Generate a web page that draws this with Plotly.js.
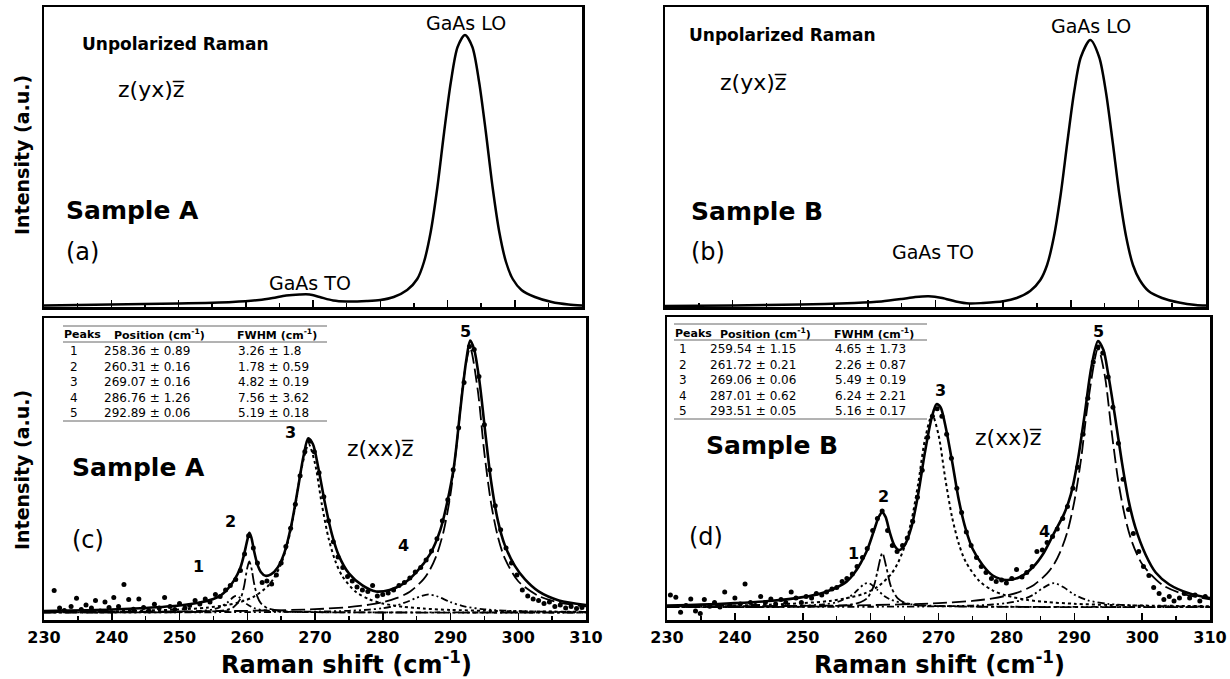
<!DOCTYPE html>
<html>
<head>
<meta charset="utf-8">
<script src="https://cdn.plot.ly/plotly-3.0.1.min.js"></script>
<style>html,body{margin:0;padding:0;background:#fff;}#chart{width:1230px;height:679px;}</style>
</head>
<body>
<div id="chart"></div>
<script>
// ---------- DATA ----------
// (a) Sample A, unpolarized Raman spectrum
const aX = [230,240,250,258,262,264,266,268,269.5,271,273,275,278,280,282,284,285.5,286.5,287.5,288.5,289.5,290.5,291.5,292.6,293.7,294.7,295.7,296.7,297.7,298.7,299.7,301,303,305.5,308,310];
const aY = [1.5,2.5,3.5,5,7,9,11.5,12.5,12.5,10,6.5,5.5,6,7,10,17,28,45,75,120,175,225,260,272,260,225,175,120,75,45,28,17,10,5,2.5,1.5];
// (b) Sample B, unpolarized Raman spectrum
const bX = [230,240,250,258,262,265,267,269,271,273,275,277,280,282,284,285.5,286.5,287.5,288.5,289.5,290.5,291.5,292.9,294.2,295.2,296.2,297.2,298.2,299.2,300.2,301.5,303.5,306,308.5,310];
const bY = [1,1.5,2.5,4,5.5,8,10,10.8,9,5.5,3.5,4,5.7,9,16,27,42,70,112,165,215,250,267,250,215,165,112,70,42,27,16,9,4.5,2,1.5];

// (c) Sample A z(xx)z : fitted envelope
const cFitX = [230,240,245,250,253,255,256,257,258,259,259.5,260,260.3,260.6,261,261.5,262,262.7,263.5,264.5,265.5,266.5,267.5,268.3,269,269.7,270.5,271.5,272.5,273.5,275,277,279,281,283,285,287,288.5,289.5,290.5,291.5,292.3,292.9,293.5,294.3,295.2,296,297,298,299.5,301,303,306,310];
const cFitY = [2,2.5,3,3.8,4.8,6,7,9,12,16.5,20.5,25.5,28,26.5,22,17.5,15,13.7,14.2,16.5,21.5,30.5,43,53.5,59.5,57.5,49.5,37.5,27.5,20.5,14.5,10.5,8.5,9,11,15,21,29,38,50,70,85,92,89,78,60,45,32,24,17,12.5,8.5,5.5,4];
// (c) fitted components 1..5
const c1X = [230,245,250,253,255,256,257,258,258.4,259,260,261,262,264,268,280,310];
const c1Y = [1.52,1.6,1.7,2.0,2.55,3.3,4.7,6.7,7.0,6.3,4.2,3.0,2.4,1.9,1.65,1.53,1.5];
const c2X = [230,250,255,257,258,259,259.5,260,260.3,260.6,261,261.5,262,263,265,270,280,310];
const c2Y = [1.5,1.6,1.9,2.4,3.3,6.1,9.9,16.3,18.5,16.5,11.3,6.8,4.6,2.9,2.0,1.6,1.5,1.5];
const c3X = [230,240,245,250,254,257,259,261,263,264,265,266,267,268,269.07,270,271,272,273,274,276,278,280,283,286,290,295,300,310];
const c3Y = [1.75,1.9,2.15,2.5,3.1,4.0,5.0,6.8,10.2,13.2,17.7,24.9,35.8,49.4,57.5,51.1,37.6,26.2,18.6,13.7,8.4,5.9,4.5,3.4,2.8,2.35,2.05,1.9,1.7];
const c4X = [230,260,270,275,278,280,282,284,285,286.76,288,290,292,295,300,310];
const c4Y = [1.52,1.62,1.8,2.06,2.45,2.93,3.82,5.42,6.42,7.5,6.9,4.97,3.55,2.55,1.95,1.66];
const c5X = [230,260,270,275,278,280,282,284,286,287,288,289,290,291,292,292.89,294,295,296,297,298,300,303,306,310];
const c5Y = [1.65,2.05,2.6,3.3,4.1,4.9,6.25,8.4,12.5,15.9,20.9,28.7,40.8,59,80.3,89.5,75.9,54.5,37.7,26.6,19.6,11.9,7.0,4.8,3.5];
// (c) measured points [shift, intensity]
const cDots = [[231.5,8.8],[232.3,3.0],[233.0,2.2],[234.0,3.5],[234.8,6.2],[235.5,2.5],[236.2,4.0],[237.0,3.0],[237.6,5.5],[238.3,2.0],[239.0,5.0],[239.6,3.2],[240.3,6.5],[241.0,3.5],[241.8,10.8],[242.5,5.8],[243.2,2.6],[244.0,6.0],[244.7,3.2],[245.5,2.0],[246.3,4.2],[247.0,3.0],[247.8,6.5],[248.6,3.5],[249.3,2.5],[250.0,4.5],[250.8,3.0],[251.5,3.8],[252.3,5.5],[253.0,4.3],[253.8,6.0],[254.5,5.0],[255.3,7.5],[256.0,6.8],[256.8,9.0],[257.5,10.5],[258.3,12.5],[259.0,15.5],[259.6,21],[260.2,27],[260.9,23],[261.5,18],[262.2,11.5],[262.9,12],[263.6,11],[264.3,14],[265.0,18],[265.7,23.5],[266.4,29.5],[267.1,37.5],[267.8,47],[268.5,55],[269.2,58.5],[269.9,55],[270.6,48],[271.3,40],[272.0,32],[272.7,25],[273.4,20],[274.1,16.5],[274.8,13.5],[275.5,12],[276.2,10],[277.0,9],[277.8,8.5],[278.5,10.5],[279.2,7],[280.0,7.5],[280.8,8],[281.6,9],[282.4,10.5],[283.2,11.5],[284.0,13],[284.8,15],[285.6,16.5],[286.4,19],[287.2,22],[288.0,26],[288.8,32],[289.6,39],[290.4,49],[291.2,63],[292.0,78],[292.8,90],[293.5,89],[294.2,80],[295.0,64],[295.8,49],[296.6,37],[297.4,29],[298.2,23],[299.0,18],[299.8,14],[300.6,9],[301.4,7],[302.2,6],[303.0,5.5],[303.8,4.5],[304.6,5],[305.4,3.5],[306.2,4],[307.0,3],[307.8,3.5],[308.6,2.8],[309.4,3.2]];

// (d) Sample B z(xx)z : fitted envelope
const dFitX = [230,235,240,245,250,253,255,256.5,257.5,258.5,259.5,260.5,261.2,261.7,262.2,262.8,263.5,264.2,265,266,267,268,269,269.7,270.3,271,272,273,274,275,276.5,278,280,282,284,285.5,287,288.5,289.5,290.5,291.5,292.5,293.5,294.3,295,296,297,298,299,300.5,302,304,307,310];
const dFitY = [3,3.3,3.8,4.5,5.8,7.3,9,11,13.5,17,21.5,28,32.5,34,32.5,27.5,23,21.5,23,29,40,54,65.5,70,69,63,51,38,28.5,22,16.5,13,11.5,12.5,16,20.5,27,33.5,40,51,66,82,91,88,80,66,51,38,29,20,14,10,7,5.5];
// (d) fitted components 1..5
const d1X = [230,245,250,253,255,257,258,259,259.54,260,261,262,263,265,268,275,290,310];
const d1Y = [2.55,2.7,2.95,3.4,4.1,6.1,8.0,10.1,10.5,10.2,8.2,6.2,4.95,3.7,3.05,2.7,2.55,2.5];
const d2X = [230,250,255,257,258.5,259.5,260.5,261,261.72,262.3,263,264,265,267,270,280,310];
const d2Y = [2.5,2.6,2.9,3.3,4.1,5.5,9.7,14.3,20.5,15.9,9.3,5.4,4.0,3.1,2.8,2.55,2.5];
const d3X = [230,240,245,250,254,257,259,261,263,264,265,266,267,268,269.06,270,271,272,273,274,276,278,280,283,286,290,295,300,310];
const d3Y = [2.8,3.05,3.3,3.8,4.55,5.7,6.95,9.2,13.4,17.1,22.6,31.1,43.5,58.2,66.5,59.8,45.2,32.4,23.5,17.6,11.2,8.0,6.3,4.9,4.15,3.6,3.2,3.0,2.8];
const d4X = [230,260,270,275,278,280,282,284,285.5,287.01,288.5,290,292,295,300,310];
const d4Y = [2.5,2.6,2.75,3.0,3.35,3.8,4.7,6.65,9.0,10.5,9.0,6.65,4.75,3.55,2.95,2.65];
const d5X = [230,260,270,275,278,280,282,284,286,287,288,289,290,291,292,293.51,294.5,295.5,296.5,297.5,298.5,300,303,306,310];
const d5Y = [2.7,3.15,3.8,4.55,5.4,6.3,7.6,9.8,13.7,16.7,21.2,27.6,37.5,51.6,70.2,88.5,79.5,61,44.2,32.3,24.2,16.8,9.85,6.9,5.1];
// (d) measured points [shift, intensity]
const dDots = [[230.5,6.5],[231.3,5.8],[232.0,0.8],[232.8,3.0],[233.5,5.2],[234.2,1.2],[234.9,0.4],[235.5,5.0],[236.3,2.8],[237.0,4.0],[237.8,2.5],[238.5,7.5],[239.3,3.0],[240.0,5.5],[240.8,3.5],[241.5,10.2],[242.3,4.0],[243.0,3.0],[243.8,6.0],[244.5,4.0],[245.3,5.2],[246.0,3.5],[246.8,5.0],[247.5,4.0],[248.3,7.5],[249.0,5.5],[249.8,4.0],[250.5,6.0],[251.3,5.5],[252.0,7.0],[252.8,6.5],[253.5,7.5],[254.3,8.5],[255.0,9.0],[255.8,11.0],[256.5,12.0],[257.3,13.5],[258.0,16.0],[258.8,19.0],[259.5,22.0],[260.3,28.0],[261.0,32.0],[261.7,34.5],[262.5,28.0],[263.2,23.0],[263.9,21.0],[264.7,23.0],[265.4,25.5],[266.2,31.0],[266.9,39.0],[267.6,48.0],[268.4,59.0],[269.1,66.0],[269.8,68.5],[270.5,66.0],[271.2,60.0],[271.9,52.0],[272.7,42.0],[273.4,34.0],[274.1,27.5],[274.8,23.0],[275.6,19.0],[276.3,16.0],[277.0,14.0],[277.8,12.0],[278.5,11.0],[279.3,11.5],[280.0,10.5],[280.8,12.0],[281.5,15.0],[282.3,12.5],[283.0,14.0],[283.8,16.0],[284.5,21.0],[285.3,21.5],[286.0,24.0],[286.8,26.0],[287.5,28.5],[288.3,32.0],[289.0,36.0],[289.8,42.0],[290.5,49.0],[291.3,60.0],[292.0,72.0],[292.8,84.0],[293.5,89.0],[294.2,87.0],[295.0,79.0],[295.7,69.0],[296.5,57.0],[297.2,45.0],[298.0,35.0],[298.7,27.0],[299.5,21.0],[300.2,16.0],[301.0,13.0],[301.7,9.0],[302.5,7.0],[303.2,5.0],[304.0,6.0],[304.7,4.5],[305.5,5.5],[306.2,7.0],[307.0,5.5],[307.8,6.5],[308.5,4.5],[309.3,6.0]];

// inset tables
const peakIds = ['1','2','3','4','5'];
const posA  = ['258.36 ± 0.89','260.31 ± 0.16','269.07 ± 0.16','286.76 ± 1.26','292.89 ± 0.06'];
const fwhmA = ['3.26 ± 1.8','1.78 ± 0.59','4.82 ± 0.19','7.56 ± 3.62','5.19 ± 0.18'];
const posB  = ['259.54 ± 1.15','261.72 ± 0.21','269.06 ± 0.06','287.01 ± 0.62','293.51 ± 0.05'];
const fwhmB = ['4.65 ± 1.73','2.26 ± 0.87','5.49 ± 0.19','6.24 ± 2.21','5.16 ± 0.17'];
const tableHead = ['Peaks','Position (cm<sup>-1</sup>)','FWHM (cm<sup>-1</sup>)'];
const xTicks = [230,240,250,260,270,280,290,300,310];

// ---------- LAYOUT HELPERS ----------
const W = 1230, H = 679;
const FONT = 'DejaVu Sans, Arial, sans-serif';
const px = v => v / W;
const py = v => 1 - v / H;

const boxes = {
  a: {x0: 44,  x1: 582,  y0: 7,   y1: 307, yr: [0, 300]},
  b: {x0: 665, x1: 1206, y0: 7,   y1: 307, yr: [0, 300]},
  c: {x0: 44,  x1: 586,  y0: 318, y1: 620, yr: [-1, 99.5]},
  d: {x0: 667, x1: 1210, y0: 317, y1: 620, yr: [-1.8, 99]}
};

function xAxis(b, anchor, labels) {
  return {
    domain: [px(b.x0), px(b.x1)], anchor: anchor, range: [230, 310],
    showline: true, mirror: true, linecolor: '#000', linewidth: 2.5,
    ticks: 'inside', ticklen: 7, tickwidth: 1.5, tickcolor: '#000',
    tickmode: 'array', tickvals: xTicks, ticktext: xTicks.map(String),
    minor: {dtick: 5, tick0: 235, ticks: 'inside', ticklen: 4, tickwidth: 1.5, tickcolor: '#000'},
    showgrid: false, zeroline: false, showticklabels: labels,
    tickfont: {family: FONT, size: 16, color: '#000', weight: 'bold'},
    ticklabelstandoff: 1, fixedrange: true
  };
}
function yAxis(b, anchor) {
  return {
    domain: [py(b.y1), py(b.y0)], anchor: anchor, range: b.yr,
    showline: true, mirror: true, linecolor: '#000', linewidth: 2.5,
    ticks: '', showticklabels: false, showgrid: false, zeroline: false, fixedrange: true
  };
}

function ann(text, x, y, size, opt) {
  opt = opt || {};
  return {
    text: text, x: px(x), y: py(y), xref: 'paper', yref: 'paper', showarrow: false,
    xanchor: opt.xa || 'left', yanchor: opt.ya || 'middle', align: 'left', textangle: opt.angle || 0,
    borderpad: 0, font: {family: FONT, size: size, color: '#000'}
  };
}

// ---------- TRACES ----------
const traces = [];
function spectrum(x, y, xa, ya) {
  traces.push({x: x, y: y, xaxis: xa, yaxis: ya, type: 'scatter', mode: 'lines',
    line: {color: '#000', width: 2.5, shape: 'spline', smoothing: 0.8}, hoverinfo: 'skip'});
}
const dashes = ['6px,3px,2px,3px,2px,3px', '12px,3px,3px,3px', 'dot', '7px,3px,2px,3px,2px,3px', '14px,5px'];
function fitted(fitX, fitY, comps, dots, xa, ya) {
  comps.forEach((c, i) => {
    traces.push({x: c[0], y: c[1], xaxis: xa, yaxis: ya, type: 'scatter', mode: 'lines',
      line: {color: '#000', width: i === 2 ? 2 : 1.8, dash: dashes[i], shape: 'spline', smoothing: 0.8}, hoverinfo: 'skip'});
  });
  traces.push({x: dots.map(p => p[0]), y: dots.map(p => p[1]), xaxis: xa, yaxis: ya, type: 'scatter', mode: 'markers',
    marker: {color: '#000', size: 5}, hoverinfo: 'skip'});
  traces.push({x: fitX, y: fitY, xaxis: xa, yaxis: ya, type: 'scatter', mode: 'lines',
    line: {color: '#000', width: 2.6, shape: 'spline', smoothing: 0.8}, hoverinfo: 'skip'});
}
spectrum(aX, aY, 'x', 'y');
spectrum(bX, bY, 'x2', 'y2');
fitted(cFitX, cFitY, [[c1X,c1Y],[c2X,c2Y],[c3X,c3Y],[c4X,c4Y],[c5X,c5Y]], cDots, 'x3', 'y3');
fitted(dFitX, dFitY, [[d1X,d1Y],[d2X,d2Y],[d3X,d3Y],[d4X,d4Y],[d5X,d5Y]], dDots, 'x4', 'y4');

// ---------- TEXT ----------
const zbar = 'z\u0305';
const annotations = [
  // (a)
  ann('<b>Unpolarized Raman</b>', 81, 44, 17),
  ann('z(yx)' + zbar, 117, 90, 22),
  ann('<b>Sample A</b>', 65, 210, 25),
  ann('(a)', 65, 252, 24),
  ann('GaAs TO', 310, 283, 19, {xa: 'center'}),
  ann('GaAs LO', 466, 23, 19, {xa: 'center'}),
  // (b)
  ann('<b>Unpolarized Raman</b>', 688, 35, 17),
  ann('z(yx)' + zbar, 719, 82, 22),
  ann('<b>Sample B</b>', 690, 211, 25),
  ann('(b)', 690, 252, 24),
  ann('GaAs TO', 933, 252, 19, {xa: 'center'}),
  ann('GaAs LO', 1091, 26, 19, {xa: 'center'}),
  // (c)
  ann('<b>Sample A</b>', 71, 467, 25),
  ann('(c)', 71, 540, 24),
  ann('z(xx)' + zbar, 346, 448, 22),
  ann('<b>5</b>', 465, 331, 16, {xa: 'center'}),
  ann('<b>3</b>', 290, 432, 16, {xa: 'center'}),
  ann('<b>2</b>', 230, 521, 16, {xa: 'center'}),
  ann('<b>1</b>', 199, 566, 16, {xa: 'center'}),
  ann('<b>4</b>', 403, 545, 16, {xa: 'center'}),
  // (d)
  ann('<b>Sample B</b>', 705, 445, 25),
  ann('(d)', 688, 537, 24),
  ann('z(xx)' + zbar, 974, 437, 22),
  ann('<b>5</b>', 1098, 331, 16, {xa: 'center'}),
  ann('<b>3</b>', 940, 391, 16, {xa: 'center'}),
  ann('<b>2</b>', 883, 497, 16, {xa: 'center'}),
  ann('<b>1</b>', 853, 553, 16, {xa: 'center'}),
  ann('<b>4</b>', 1044, 531, 16, {xa: 'center'}),
  // axis titles
  ann('<b>Intensity (a.u.)</b>', 22, 155, 19, {xa: 'center', angle: -90}),
  ann('<b>Intensity (a.u.)</b>', 22, 470, 19, {xa: 'center', angle: -90}),
  ann('<b>Raman shift (cm<sup>-1</sup>)</b>', 346, 663, 24, {xa: 'center'}),
  ann('<b>Raman shift (cm<sup>-1</sup>)</b>', 939, 663, 24, {xa: 'center'})
];

const shapes = [];
function table(x0, x1, yTop, yHead, yLine2, yBottom, colX, numX, rowsTop, pos, fwhm) {
  [yTop, yLine2, yBottom].forEach(y => shapes.push({type: 'line', xref: 'paper', yref: 'paper',
    x0: px(x0), x1: px(x1), y0: py(y), y1: py(y), line: {color: '#666', width: 1}}));
  tableHead.forEach((h, i) => annotations.push(ann('<b>' + h + '</b>', colX[i], yHead, 11)));
  annotations.push(ann(peakIds.join('<br>'), numX, rowsTop, 12, {ya: 'top'}));
  annotations.push(ann(pos.join('<br>'), colX[1] - 10, rowsTop, 12, {ya: 'top'}));
  annotations.push(ann(fwhm.join('<br>'), colX[2] + 1, rowsTop, 12, {ya: 'top'}));
}
table(63, 327, 326, 334, 342, 421, [63, 113, 236], 69, 343, posA, fwhmA);
table(674, 927, 324, 333, 340, 419, [674, 719, 833], 678, 341, posB, fwhmB);

const layout = {
  width: W, height: H, margin: {l: 0, r: 0, t: 0, b: 0},
  paper_bgcolor: '#fff', plot_bgcolor: 'rgba(0,0,0,0)', showlegend: false,
  xaxis: xAxis(boxes.a, 'y', false), yaxis: yAxis(boxes.a, 'x'),
  xaxis2: xAxis(boxes.b, 'y2', false), yaxis2: yAxis(boxes.b, 'x2'),
  xaxis3: xAxis(boxes.c, 'y3', true), yaxis3: yAxis(boxes.c, 'x3'),
  xaxis4: xAxis(boxes.d, 'y4', true), yaxis4: yAxis(boxes.d, 'x4'),
  annotations: annotations, shapes: shapes
};
Plotly.newPlot('chart', traces, layout, {displayModeBar: false, staticPlot: true});
</script>
</body>
</html>
